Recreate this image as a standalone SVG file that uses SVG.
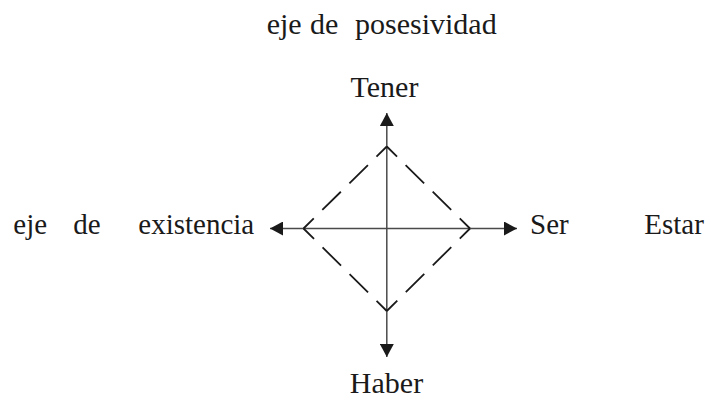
<svg xmlns="http://www.w3.org/2000/svg" width="705" height="399" viewBox="0 0 705 399">
  <style>
    .lbl { font-family: "Liberation Serif", "Times New Roman", serif; fill: #1a1a1a; }
    .big { font-size: 30px; }
    .mid { font-size: 29px; }
    .axis { stroke: #4a4a4a; stroke-width: 1.5; fill: none; }
    .dash { stroke: #1a1a1a; stroke-width: 1.8; fill: none; stroke-dasharray: 26 12; stroke-dashoffset: 11.6; }
  </style>
  <defs>
    <marker id="arr" viewBox="0 0 13 14" refX="13" refY="7" markerWidth="13" markerHeight="14" markerUnits="userSpaceOnUse" orient="auto-start-reverse">
      <path d="M0,0 L13,7 L0,14 z" fill="#1a1a1a"/>
    </marker>
  </defs>
  <rect width="705" height="399" fill="#ffffff"/>

  <g id="connectors">
    <line class="axis" x1="386.8" y1="113" x2="386.8" y2="357" marker-start="url(#arr)" marker-end="url(#arr)"/>
    <line class="axis" x1="270" y1="228.5" x2="517" y2="228.5" marker-start="url(#arr)" marker-end="url(#arr)"/>
  </g>

  <g id="diamond">
    <line class="dash" x1="386.8" y1="146.5" x2="470" y2="228.5"/>
    <line class="dash" x1="470" y1="228.5" x2="386.8" y2="311"/>
    <line class="dash" x1="386.8" y1="311" x2="303.5" y2="228.5"/>
    <line class="dash" x1="303.5" y1="228.5" x2="386.8" y2="146.5"/>
  </g>

  <g id="title-posesividad">
    <text class="lbl big" x="266.7" y="33.5">eje</text>
    <text class="lbl big" x="310" y="33.5">de</text>
    <text class="lbl big" x="355" y="33.5">posesividad</text>
  </g>
  <g id="node-tener">
    <text class="lbl big" x="384.5" y="96.5" text-anchor="middle">Tener</text>
  </g>
  <g id="node-haber">
    <text class="lbl big" x="386.5" y="393" text-anchor="middle">Haber</text>
  </g>
  <g id="label-existencia">
    <text class="lbl mid" x="13.3" y="233.5">eje</text>
    <text class="lbl mid" x="73.3" y="233.5">de</text>
    <text class="lbl mid" x="138.3" y="233.5">existencia</text>
  </g>
  <g id="node-ser">
    <text class="lbl mid" x="530" y="233.5">Ser</text>
  </g>
  <g id="node-estar">
    <text class="lbl mid" x="644.3" y="233.5">Estar</text>
  </g>
</svg>
